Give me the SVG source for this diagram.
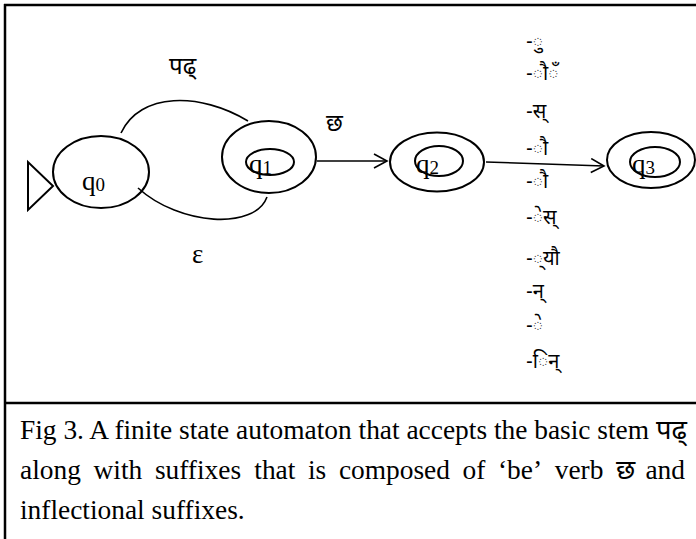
<svg xmlns="http://www.w3.org/2000/svg" width="696" height="539" viewBox="0 0 696 539">
<style>
.st{fill:none;stroke:#000;stroke-width:2}
.ln{fill:none;stroke:#000;stroke-width:1.6}
.q{font-family:"Liberation Serif","Times New Roman",serif;font-size:27px;fill:#000}
.sub{font-size:19px}
.dv{font-family:"Noto Sans Devanagari","Noto Sans","Liberation Sans",sans-serif;font-size:20px;fill:#000}
.big{font-size:24px}
.cap{font-family:"Liberation Serif","Times New Roman","Noto Sans Devanagari",serif;font-size:27.4px;fill:#000}
</style>
<defs>
<marker id="ah" markerWidth="16" markerHeight="16" refX="14" refY="8" orient="auto" markerUnits="userSpaceOnUse">
<path d="M1,1 L14,8 L1,15" fill="none" stroke="#000" stroke-width="1.6"/>
</marker>
</defs>
<rect width="696" height="539" fill="#fff"/>
<g id="frame">
<line x1="4" y1="5" x2="696" y2="5" stroke="#000" stroke-width="2.5"/>
<line x1="5" y1="4" x2="5" y2="539" stroke="#000" stroke-width="2.5"/>
<line x1="4" y1="403" x2="696" y2="403" stroke="#000" stroke-width="2.5"/>
</g>
<g id="start">
<polygon points="28,162 28,210 53,186" class="st"/>
</g>
<g id="q0">
<ellipse cx="101" cy="172" rx="48" ry="36" class="st"/>
<text x="82" y="190" class="q">q<tspan class="sub" dy="1">0</tspan></text>
</g>
<g id="q1">
<ellipse cx="269" cy="157" rx="47" ry="36" class="st"/>
<ellipse cx="270" cy="162" rx="24" ry="13" class="st"/>
<text x="249" y="173" class="q">q<tspan class="sub" dy="1">1</tspan></text>
</g>
<g id="q2">
<ellipse cx="437" cy="162" rx="47" ry="29.5" class="st"/>
<ellipse cx="439" cy="161" rx="24" ry="15" class="st"/>
<text x="416" y="173" class="q">q<tspan class="sub" dy="1">2</tspan></text>
</g>
<g id="q3">
<ellipse cx="651" cy="160" rx="44" ry="28" class="st"/>
<ellipse cx="655" cy="162" rx="25" ry="15" class="st"/>
<text x="632" y="173" class="q">q<tspan class="sub" dy="1">3</tspan></text>
</g>
<g id="connectors">
<path d="M121,133 C140,92 200,92 248,121" class="ln"/>
<path d="M138,188 C180,226 255,230 267,197" class="ln"/>
<line x1="317" y1="161" x2="387" y2="161" class="ln" marker-end="url(#ah)"/>
<line x1="486" y1="162" x2="604" y2="166" class="ln" marker-end="url(#ah)"/>
</g>
<g id="labels">
<text x="169" y="74" class="dv big">पढ्</text>
<text x="326" y="131" class="dv big">छ</text>
<text x="192" y="263" class="q">ε</text>
<text x="526" y="48" class="dv">-◌ु</text>
<text x="526" y="80" class="dv">-◌ौ◌ँ</text>
<text x="526" y="118" class="dv">-स्</text>
<text x="526" y="155" class="dv">-◌ौ</text>
<text x="526" y="188" class="dv">-◌ौ</text>
<text x="526" y="224" class="dv">-◌ेस्</text>
<text x="526" y="265" class="dv">-◌्यौ</text>
<text x="526" y="298" class="dv">-न्</text>
<text x="526" y="332" class="dv">-◌े</text>
<text x="526" y="368" class="dv">-◌िन्</text>
</g>
<g id="caption">
<text x="20" y="439" class="cap">Fig 3. A finite state automaton that accepts the basic stem पढ्</text>
<text y="479" class="cap"><tspan x="20">along</tspan><tspan x="93.6">with</tspan><tspan x="154.9">suffixes</tspan><tspan x="254.3">that</tspan><tspan x="308">is</tspan><tspan x="338.9">composed</tspan><tspan x="462.6">of</tspan><tspan x="498">‘be’</tspan><tspan x="554.7">verb</tspan><tspan x="616">छ</tspan></text>
<text x="685" y="479" class="cap" text-anchor="end">and</text>
<text x="20" y="519" class="cap">inflectional suffixes.</text>
</g>
</svg>
